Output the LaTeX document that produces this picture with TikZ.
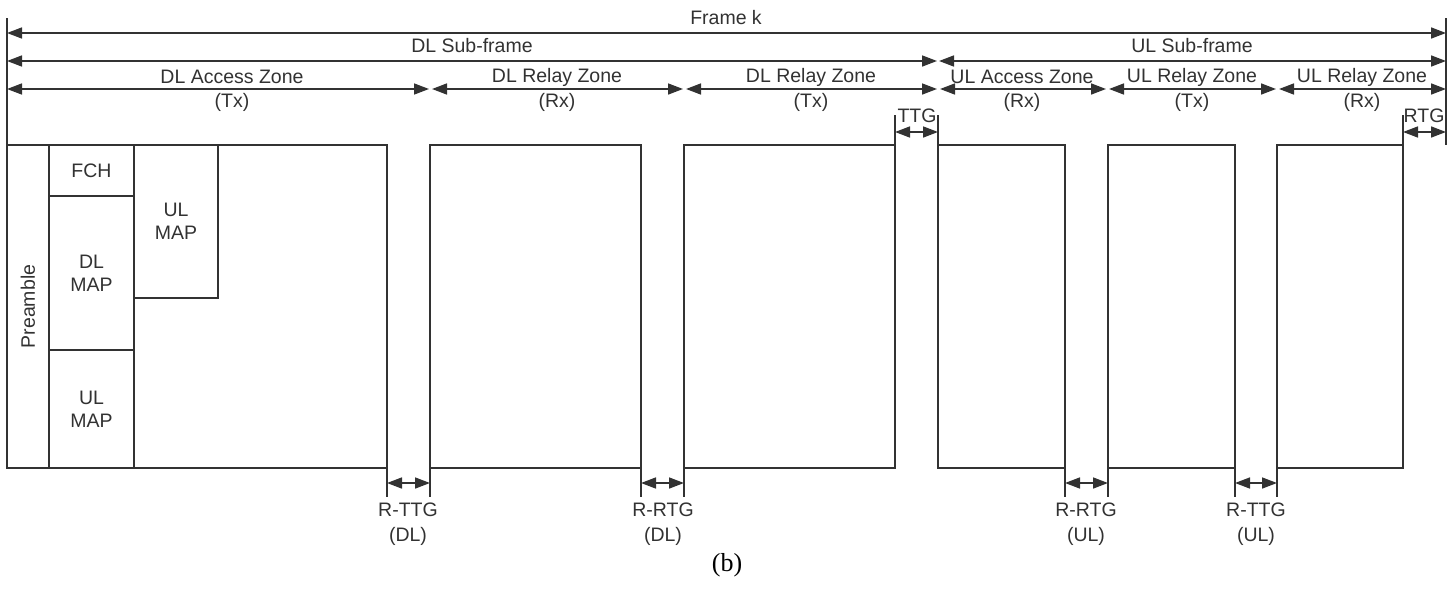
\documentclass[tikz,border=0pt]{standalone}
\usepackage{fontspec}
\setmainfont{Liberation Sans}
\newfontfamily\serifb{Liberation Serif}
\usetikzlibrary{arrows.meta}
\definecolor{ln}{RGB}{50,50,50}
\definecolor{tx}{RGB}{50,50,50}
\tikzset{
  dim/.style={draw=ln, line width=1.6pt, {Triangle[length=15pt,width=11pt]}-{Triangle[length=15pt,width=11pt]}},
  frm/.style={draw=ln, line width=1.4pt},
  box/.style={frm, rectangle, inner sep=0pt, outer sep=0pt, anchor=north west},
  lbl/.style={text=tx, font=\fontsize{19.5}{23}\selectfont, inner sep=0pt, align=center},
}
\begin{document}
\begin{tikzpicture}[x=1pt,y=-1pt]
\useasboundingbox (0,0) rectangle (1455,589);
% boxes
\node[box, minimum width=380pt, minimum height=323pt] (b1) at (7,145) {};
\node[box, minimum width=42pt, minimum height=323pt] (pre) at (7,145) {};
\node[box, minimum width=85pt, minimum height=51pt] (fch) at (49,145) {};
\node[box, minimum width=85pt, minimum height=154pt] (dlmap) at (49,196) {};
\node[box, minimum width=85pt, minimum height=118pt] (ulmapb) at (49,350) {};
\node[box, minimum width=84pt, minimum height=153pt] (ulmapa) at (134,145) {};
\node[box, minimum width=211pt, minimum height=323pt] (b2) at (430,145) {};
\node[box, minimum width=211pt, minimum height=323pt] (b3) at (684,145) {};
\node[box, minimum width=127pt, minimum height=323pt] (b4) at (938,145) {};
\node[box, minimum width=127pt, minimum height=323pt] (b5) at (1108,145) {};
\node[box, minimum width=126pt, minimum height=323pt] (b6) at (1277,145) {};
% texts in boxes
\node[lbl, rotate=90] (tpre) at (pre.center) {Preamble};
\node[lbl] (tfch) at (fch.center) {FCH};
\node[lbl] (tdl) at (dlmap.center) {DL\\MAP};
\node[lbl] (tulb) at (ulmapb.center) {UL\\MAP};
\node[lbl] (tula) at (ulmapa.center) {UL\\MAP};
% frame edges
\coordinate (topL) at (7,18);
\coordinate (topR) at (1446,18);
\coordinate (botR) at (1446,145);
\draw[frm, line width=1.8pt] (topL) -- (pre.north west);
\draw[frm, line width=1.8pt] (topR) -- (botR);
% extensions at top
\draw[frm] (b3.north east) -- ++(0,-30) coordinate (ttgL);
\draw[frm] (b4.north west) -- ++(0,-30) coordinate (ttgR);
\draw[frm] (b6.north east) -- ++(0,-30) coordinate (rtgL);
% extensions at bottom
\draw[frm] (b1.south east) -- ++(0,29) coordinate (g1a);
\draw[frm] (b2.south west) -- ++(0,29) coordinate (g1b);
\draw[frm] (b2.south east) -- ++(0,29) coordinate (g2a);
\draw[frm] (b3.south west) -- ++(0,29) coordinate (g2b);
\draw[frm] (b4.south east) -- ++(0,29) coordinate (g3a);
\draw[frm] (b5.south west) -- ++(0,29) coordinate (g3b);
\draw[frm] (b5.south east) -- ++(0,29) coordinate (g4a);
\draw[frm] (b6.south west) -- ++(0,29) coordinate (g4b);
% top dimension lines
\coordinate (fA) at (7,33);   \coordinate (fB) at (1446,33);
\coordinate (sA) at (7,61);   \coordinate (sB) at (937,61);
\coordinate (sC) at (939,61); \coordinate (sD) at (1446,61);
\draw[dim] (fA) -- (fB);
\draw[dim] (sA) -- (sB);
\draw[dim] (sC) -- (sD);
\coordinate (z0) at (7,89);
\coordinate (z1a) at (429,89);  \coordinate (z1b) at (432,89);
\coordinate (z2a) at (683,89);  \coordinate (z2b) at (686,89);
\coordinate (z3a) at (937,89);  \coordinate (z3b) at (940,89);
\coordinate (z4a) at (1106,89); \coordinate (z4b) at (1109,89);
\coordinate (z5a) at (1276,89); \coordinate (z5b) at (1279,89);
\coordinate (z6) at (1446,89);
\draw[dim] (z0) -- (z1a);
\draw[dim] (z1b) -- (z2a);
\draw[dim] (z2b) -- (z3a);
\draw[dim] (z3b) -- (z4a);
\draw[dim] (z4b) -- (z5a);
\draw[dim] (z5b) -- (z6);
% gap arrows
\draw[dim] ([yshift=-17pt]ttgL) coordinate (t1) -- (t1 -| ttgR);
\draw[dim] ([yshift=-17pt]rtgL) coordinate (t2) -- (t2 -| botR);
\draw[dim] ([yshift=14pt]g1a) coordinate (u1) -- (u1 -| g1b);
\draw[dim] ([yshift=14pt]g2a) coordinate (u2) -- (u2 -| g2b);
\draw[dim] ([yshift=14pt]g3a) coordinate (u3) -- (u3 -| g3b);
\draw[dim] ([yshift=14pt]g4a) coordinate (u4) -- (u4 -| g4b);
% labels
\node[lbl] (lf) at (726,18) {Frame k};
\node[lbl] (ldl) at (472,46) {DL Sub-frame};
\node[lbl] (lul) at (1192,46) {UL Sub-frame};
\node[lbl] (la1) at (232,77) {DL Access Zone};
\node[lbl] (lb1) at (232,102) {(Tx)};
\node[lbl] (la2) at (557,77) {DL Relay Zone};
\node[lbl] (lb2) at (557,102) {(Rx)};
\node[lbl] (la3) at (811,77) {DL Relay Zone};
\node[lbl] (lb3) at (811,102) {(Tx)};
\node[lbl] (la4) at (1022,77) {UL Access Zone};
\node[lbl] (lb4) at (1022,102) {(Rx)};
\node[lbl] (la5) at (1192,77) {UL Relay Zone};
\node[lbl] (lb5) at (1192,102) {(Tx)};
\node[lbl] (la6) at (1362,77) {UL Relay Zone};
\node[lbl] (lb6) at (1362,102) {(Rx)};
\node[lbl] (lttg) at (917,116) {TTG};
\node[lbl] (lrtg) at (1424,116) {RTG};
\node[lbl] (g1t) at (408,510) {R-TTG};
\node[lbl] (g1s) at (408,536) {(DL)};
\node[lbl] (g2t) at (663,510) {R-RTG};
\node[lbl] (g2s) at (663,536) {(DL)};
\node[lbl] (g3t) at (1086,510) {R-RTG};
\node[lbl] (g3s) at (1086,536) {(UL)};
\node[lbl] (g4t) at (1256,510) {R-TTG};
\node[lbl] (g4s) at (1256,536) {(UL)};
\node[font=\serifb\fontsize{26}{30}\selectfont, inner sep=0pt] (cap) at (727,565) {(b)};
\end{tikzpicture}
\end{document}
